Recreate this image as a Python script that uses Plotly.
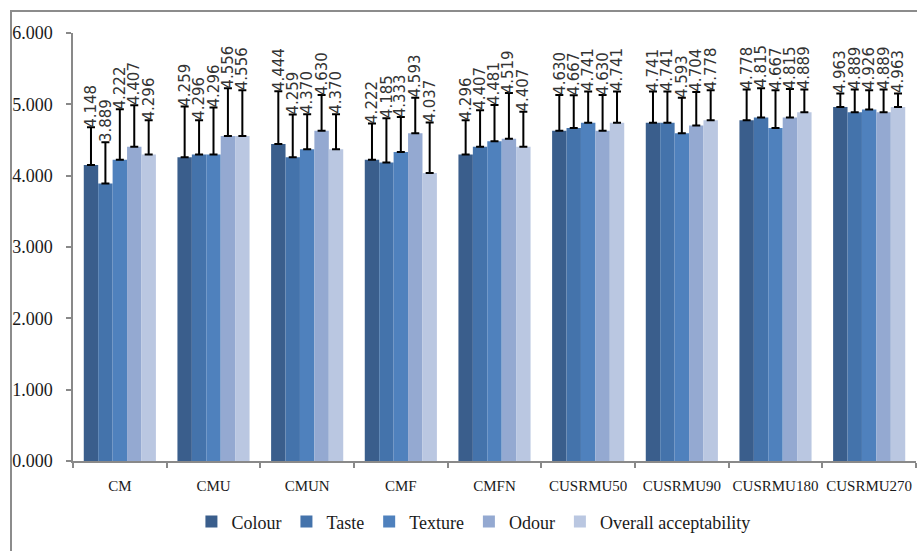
import plotly.graph_objects as go

categories = ["CM", "CMU", "CMUN", "CMF", "CMFN", "CUSRMU50", "CUSRMU90", "CUSRMU180", "CUSRMU270"]
series_names = ["Colour", "Taste", "Texture", "Odour", "Overall acceptability"]

colour = [4.148, 4.259, 4.444, 4.222, 4.296, 4.630, 4.741, 4.778, 4.963]
taste = [3.889, 4.296, 4.259, 4.185, 4.407, 4.667, 4.741, 4.815, 4.889]
texture = [4.222, 4.296, 4.370, 4.333, 4.481, 4.741, 4.593, 4.667, 4.926]
odour = [4.407, 4.556, 4.630, 4.593, 4.519, 4.630, 4.704, 4.815, 4.889]
overall = [4.296, 4.556, 4.370, 4.037, 4.407, 4.741, 4.778, 4.889, 4.963]

# standard deviations (estimated from error bar heights)
colour_sd = [0.53, 0.71, 0.74, 0.51, 0.48, 0.50, 0.44, 0.43, 0.19]
taste_sd = [0.58, 0.48, 0.60, 0.62, 0.51, 0.46, 0.44, 0.41, 0.32]
texture_sd = [0.71, 0.66, 0.49, 0.49, 0.51, 0.44, 0.50, 0.53, 0.27]
odour_sd = [0.58, 0.67, 0.50, 0.50, 0.64, 0.50, 0.47, 0.40, 0.32]
overall_sd = [0.48, 0.64, 0.49, 0.71, 0.49, 0.44, 0.42, 0.32, 0.19]

y_tickvals = [0, 1, 2, 3, 4, 5, 6]
y_ticktext = ["0.000", "1.000", "2.000", "3.000", "4.000", "5.000", "6.000"]

values = [colour, taste, texture, odour, overall]
sds = [colour_sd, taste_sd, texture_sd, odour_sd, overall_sd]
colors = ["#3A5E8C", "#4473AB", "#4F81BD", "#94A9D1", "#BAC7E1"]

W, H = 917, 551
ML, MR, MT, MB = 73, 1, 33, 90
plot_w = W - ML - MR
bargap = 0.23
bar_px = plot_w / len(categories) * (1 - bargap) / len(series_names)

fig = go.Figure()
annotations = []
for i, (name, vals, sd, col) in enumerate(zip(series_names, values, sds, colors)):
    fig.add_trace(go.Bar(
        name=name, x=categories, y=vals,
        marker=dict(color=col, line=dict(width=0)),
        error_y=dict(type="data", array=sd, symmetric=False,
                     arrayminus=[0] * len(sd), color="#000000",
                     thickness=2, width=4),
    ))
    for c, v, s in zip(categories, vals, sd):
        annotations.append(dict(
            x=c, y=v + s, xref="x", yref="y", text=f"{v:.3f}",
            showarrow=False, textangle=-90, xanchor="center", yanchor="bottom",
            xshift=(i - 2) * bar_px, yshift=-2,
            font=dict(family="DejaVu Sans", size=15, color="#333333"),
        ))

# outer chart border (extends off-canvas to right and bottom)
plot_h = H - MT - MB
shapes = [dict(type="rect", xref="paper", yref="paper",
               x0=(11 - ML) / plot_w, x1=1.05,
               y0=-0.3, y1=1 + (MT - 11) / plot_h,
               line=dict(color="#8C8C8C", width=2), fillcolor="rgba(0,0,0,0)",
               layer="below")]

fig.update_layout(
    width=W, height=H,
    margin=dict(l=ML, r=MR, t=MT, b=MB, autoexpand=False),
    paper_bgcolor="white", plot_bgcolor="white",
    barmode="group", bargap=bargap, bargroupgap=0,
    font=dict(family="Liberation Serif", color="#1a1a1a"),
    annotations=annotations,
    shapes=shapes,
    legend=dict(orientation="h", x=0.475, xanchor="center", y=-0.142, yanchor="middle",
                font=dict(family="Liberation Serif", size=18, color="#1a1a1a"),
                itemwidth=30, traceorder="normal"),
    xaxis=dict(showline=True, linecolor="#898989", linewidth=1.5,
               ticks="outside", tickson="boundaries", ticklen=5, tickcolor="#898989",
               tickwidth=1.5, ticklabelstandoff=10, tickangle=0,
               tickfont=dict(family="Liberation Serif", size=15, color="#1a1a1a"),
               showgrid=False, zeroline=False),
    yaxis=dict(range=[0, 6], tickvals=y_tickvals, ticktext=y_ticktext,
               showline=True, linecolor="#898989", linewidth=1.5,
               ticks="outside", ticklen=5, tickcolor="#898989", tickwidth=1.5,
               ticklabelstandoff=10,
               tickfont=dict(family="Liberation Serif", size=18, color="#1a1a1a"),
               showgrid=False, zeroline=False),
)

fig.write_html("out.html", config={"displayModeBar": False},
               post_script="document.body.style.margin='0';document.body.style.overflow='hidden';")
